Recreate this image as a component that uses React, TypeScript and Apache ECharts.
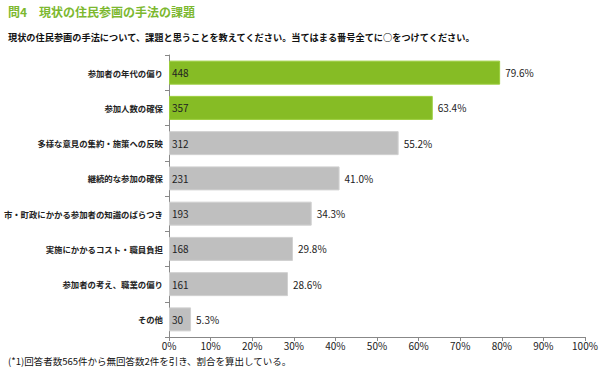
import React, { useEffect, useRef } from "react";
import * as echarts from "echarts";

const categories = [
  "参加者の年代の偏り",
  "参加人数の確保",
  "多様な意見の集約・施策への反映",
  "継続的な参加の確保",
  "市・町政にかかる参加者の知識のばらつき",
  "実施にかかるコスト・職員負担",
  "参加者の考え、職業の偏り",
  "その他",
];
const counts = [448, 357, 312, 231, 193, 168, 161, 30];
const percents = [79.6, 63.4, 55.2, 41.0, 34.3, 29.8, 28.6, 5.3];
const highlight = [true, true, false, false, false, false, false, false];

const FONT = '"Noto Sans CJK JP", "Noto Sans", sans-serif';

export default function App() {
  const ref = useRef<HTMLDivElement>(null);
  useEffect(() => {
    if (!ref.current) return;
    const chart = echarts.init(ref.current, undefined, { renderer: "svg" });
    chart.setOption({
      animation: false,
      textStyle: { fontFamily: FONT },
      grid: { left: 169, right: 15, top: 55, bottom: 32, containLabel: false, outerBoundsMode: "none" },
      graphic: [
        {
          type: "text",
          left: 8,
          top: 5,
          style: {
            text: "問4　現状の住民参画の手法の課題",
            font: `bold 12px ${FONT}`,
            fill: "#7CB82F",
          },
        },
        {
          type: "text",
          left: 8,
          top: 32,
          style: {
            text: "現状の住民参画の手法について、課題と思うことを教えてください。当てはまる番号全てに○をつけてください。",
            font: `bold 9.2px ${FONT}`,
            fill: "#111",
          },
        },
        {
          type: "text",
          left: 8,
          top: 356,
          style: {
            text: "(*1)回答者数565件から無回答数2件を引き、割合を算出している。",
            font: `9.5px ${FONT}`,
            fill: "#111",
          },
        },
      ],
      xAxis: {
        type: "value",
        min: 0,
        max: 100,
        interval: 10,
        axisLine: { show: true, lineStyle: { color: "#888" } },
        axisTick: { show: true, length: 4, lineStyle: { color: "#888" } },
        splitLine: { show: false },
        axisLabel: { formatter: "{value}%", color: "#222", fontSize: 10, margin: 3, fontFamily: FONT },
      },
      yAxis: {
        type: "category",
        data: categories,
        inverse: true,
        axisLine: { show: true, lineStyle: { color: "#888" } },
        axisTick: { show: true, length: 4, lineStyle: { color: "#888" } },
        axisLabel: { color: "#222", fontSize: 8.4, margin: 6, fontWeight: "bold", fontFamily: FONT },
      },
      series: [
        {
          type: "bar",
          data: percents.map((v, i) => ({
            value: v,
            itemStyle: {
              color: highlight[i] ? "#86BC25" : "#BFBFBF",
              borderColor: highlight[i] ? "#9ACD3A" : "#D0D0D0",
              borderWidth: 1,
            },
          })),
          barWidth: 24,
          label: {
            show: true,
            position: "insideLeft",
            distance: 3,
            color: "#222",
            fontSize: 10,
            fontFamily: FONT,
            formatter: (p: any) => String(counts[p.dataIndex]),
          },
        },
        {
          type: "bar",
          data: percents,
          barWidth: 24,
          barGap: "-100%",
          itemStyle: { color: "transparent" },
          label: {
            show: true,
            position: "right",
            distance: 5,
            color: "#222",
            fontSize: 10,
            fontFamily: FONT,
            formatter: (p: any) => percents[p.dataIndex].toFixed(1) + "%",
          },
        },
      ],
    });
    return () => chart.dispose();
  }, []);
  return <div ref={ref} style={{ width: 600, height: 369, position: "absolute", left: 0, top: 0 }} />;
}
